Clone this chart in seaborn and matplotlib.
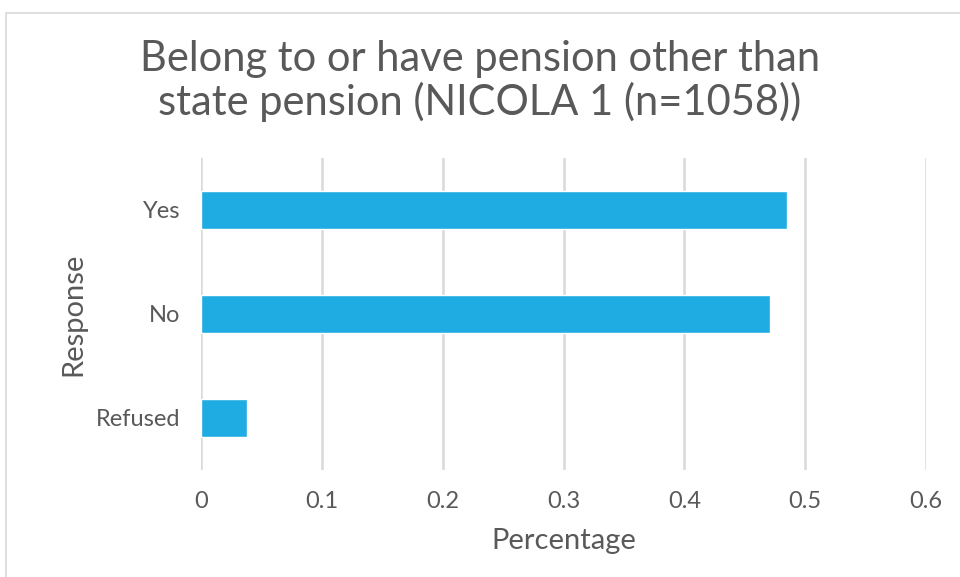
import matplotlib
matplotlib.use("Agg")
import matplotlib.pyplot as plt
import seaborn as sns
import pandas as pd
from matplotlib.patches import Rectangle

responses = ["Yes", "No", "Refused"]
shares = [0.485, 0.471, 0.038]
x_ticks = [0, 0.1, 0.2, 0.3, 0.4, 0.5, 0.6]
x_tick_labels = ["0", "0.1", "0.2", "0.3", "0.4", "0.5", "0.6"]

df = pd.DataFrame({"Response": responses, "Percentage": shares})

sns.set_theme(style="white")
plt.rcParams["font.family"] = ["Lato", "DejaVu Sans"]

text_grey = "#595959"
bar_blue = "#1eace2"

fig = plt.figure(figsize=(9.6, 5.77), dpi=100)
ax = fig.add_axes([201 / 960, 1 - 470 / 577, (926 - 201) / 960, (470 - 158) / 577])

sns.barplot(data=df, x="Percentage", y="Response", order=responses,
            color=bar_blue, width=0.36, saturation=1, ax=ax, zorder=3)

ax.set_xlim(0, 0.6)
ax.set_xticks(x_ticks)
ax.set_xticklabels(x_tick_labels)
ax.xaxis.grid(True, color="#d9d9d9", linewidth=1.8, zorder=0)
ax.set_axisbelow(True)
for s in ax.spines.values():
    s.set_visible(False)
ax.tick_params(axis="both", length=0, labelsize=17, labelcolor=text_grey)
ax.tick_params(axis="x", pad=15)
ax.tick_params(axis="y", pad=15)

ax.set_xlabel("Percentage", fontsize=21, color=text_grey, labelpad=12)
ax.set_ylabel("Response", fontsize=21, color=text_grey, labelpad=7)

fig.text(0.5, 1 - 81 / 577, "Belong to or have pension other than\nstate pension (NICOLA 1 (n=1058))",
         ha="center", va="center", fontsize=30, color=text_grey, linespacing=1.1)

fig.patches.append(Rectangle((6 / 960, -0.01), 1.0, 1 - 13 / 577 + 0.01,
                             transform=fig.transFigure, fill=False,
                             edgecolor="#d9d9d9", linewidth=1.2))

fig.savefig("out.png", dpi=100)
